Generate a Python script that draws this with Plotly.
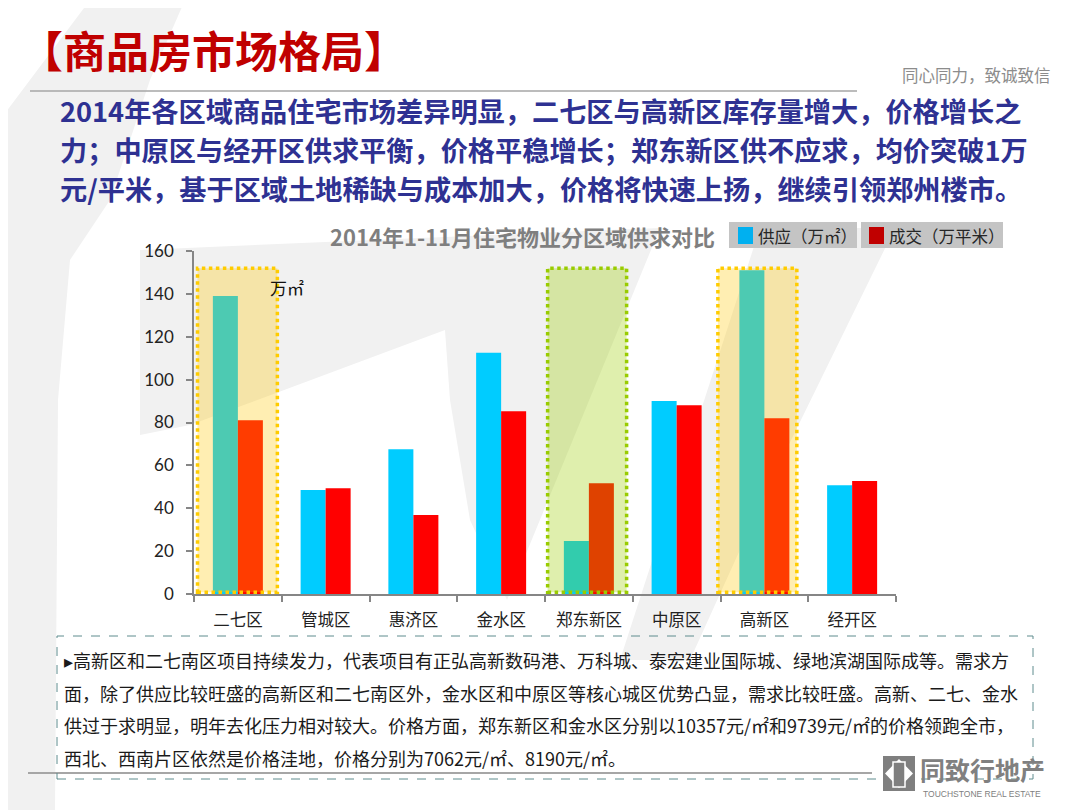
import plotly.graph_objects as go

# ---------------- data ----------------
districts = ["二七区", "管城区", "惠济区", "金水区", "郑东新区", "中原区", "高新区", "经开区"]
supply = [139, 48.5, 67.5, 112.5, 24.7, 90, 151, 50.7]      # 供应（万㎡）
deal = [81, 49.3, 36.8, 85.2, 51.7, 88, 82, 52.7]           # 成交（万平米）
y_ticks = [0, 20, 40, 60, 80, 100, 120, 140, 160]

page_title = "【商品房市场格局】"
summary_lines = [
    "2014年各区域商品住宅市场差异明显，二七区与高新区库存量增大，价格增长之",
    "力；中原区与经开区供求平衡，价格平稳增长；郑东新区供不应求，均价突破1万",
    "元/平米，基于区域土地稀缺与成本加大，价格将快速上扬，继续引领郑州楼市。",
]
chart_title = "2014年1-11月住宅物业分区域供求对比"
legend_names = ["供应（万㎡）", "成交（万平米）"]
unit_label = "万㎡"
note_lines = [
    "▸高新区和二七南区项目持续发力，代表项目有正弘高新数码港、万科城、泰宏建业国际城、绿地滨湖国际成等。需求方",
    "面，除了供应比较旺盛的高新区和二七南区外，金水区和中原区等核心城区优势凸显，需求比较旺盛。高新、二七、金水",
    "供过于求明显，明年去化压力相对较大。价格方面，郑东新区和金水区分别以10357元/㎡和9739元/㎡的价格领跑全市，",
    "西北、西南片区依然是价格洼地，价格分别为7062元/㎡、8190元/㎡。",
]
tagline = "同心同力，致诚致信"
brand_cn = "同致行地产"
brand_en = "TOUCHSTONE REAL ESTATE"

# ---------------- geometry helpers ----------------
OFF = 8                      # page body margin of the browser
W, H = 1080 - OFF, 810 - OFF
PL, PR, PT, PB = 194, 896, 251, 594  # plot area in screenshot pixels


def px(x):
    return (x - PL) / (PR - PL)


def py(y):
    return (PB - y) / (PB - PT)


CJK = "Noto Sans CJK SC"

fig = go.Figure()
fig.add_trace(go.Bar(x=districts, y=supply, name=legend_names[0],
                     marker=dict(color="#00CCFF", line=dict(width=0)), showlegend=False))
fig.add_trace(go.Bar(x=districts, y=deal, name=legend_names[1],
                     marker=dict(color="#FF0000", line=dict(width=0)), showlegend=False))

shapes = []
annotations = []


def poly(points, color, layer="below"):
    path = "M " + " L ".join(f"{px(a):.5f},{py(b):.5f}" for a, b in points) + " Z"
    return dict(type="path", xref="paper", yref="paper", path=path,
                fillcolor=color, line=dict(width=0), layer=layer)


# faint watermark in the background
WM = "#F1F1F1"
shapes.append(poly([(90, 0), (185, 0), (150, 80), (110, 200), (70, 260), (58, 400), (55, 810), (0, 810), (0, 120)], WM))
shapes.append(poly([(140, 250), (560, 232), (660, 228), (507, 600), (470, 520), (450, 400), (445, 330),
                    (190, 425), (140, 435)], WM))
shapes.append(poly([(760, 228), (895, 228), (773, 477), (690, 660), (620, 660)], WM))

# highlight boxes (over bars, translucent)
highlights = [
    (0, -0.46, 0.45, "rgba(255,200,0,0.30)", "#FFCC00"),
    (4, -0.47, 0.43, "rgba(155,206,0,0.32)", "#99CC00"),
    (6, -0.53, 0.37, "rgba(255,200,0,0.30)", "#FFCC00"),
]
for idx, a, b, fill, edge in highlights:
    shapes.append(dict(type="rect", xref="x", yref="y", x0=idx + a, x1=idx + b, y0=0.8, y1=152,
                       fillcolor=fill, line=dict(color=edge, width=3.5, dash="dot"), layer="above"))

# top separator line
shapes.append(dict(type="line", xref="paper", yref="paper", x0=px(30), x1=px(857), y0=py(91), y1=py(91),
                   line=dict(color="#A6A6A6", width=1.5)))
# bottom separator line
shapes.append(dict(type="line", xref="paper", yref="paper", x0=px(28), x1=px(872), y0=py(773), y1=py(773),
                   line=dict(color="#A6A6A6", width=2)))
# note dashed box
shapes.append(dict(type="rect", xref="paper", yref="paper", x0=px(57), x1=px(1033), y0=py(779), y1=py(636),
                   line=dict(color="#5F8C8E", width=1, dash="dash"), fillcolor="rgba(0,0,0,0)"))

# legend boxes
legend_boxes = [(729, 857, "#00B0F0", 738), (861, 1003, "#C00000", 869)]
for (x0, x1, col, mx), name in zip(legend_boxes, legend_names):
    shapes.append(dict(type="rect", xref="paper", yref="paper", x0=px(x0), x1=px(x1), y0=py(248), y1=py(222),
                       fillcolor="#C4C4C4", line=dict(width=0)))
    shapes.append(dict(type="rect", xref="paper", yref="paper", x0=px(mx), x1=px(mx + 15), y0=py(244), y1=py(227),
                       fillcolor=col, line=dict(width=0)))
    annotations.append(dict(text=name, xref="paper", yref="paper", x=px(mx + 18), y=py(236),
                            xanchor="left", yanchor="middle", showarrow=False,
                            font=dict(family=CJK, size=16.5, color="#262626")))

# logo icon
shapes.append(dict(type="rect", xref="paper", yref="paper", x0=px(883), x1=px(915), y0=py(791), y1=py(756),
                   fillcolor="#7F7F7F", line=dict(width=0)))
shapes.append(poly([(899, 759), (913, 773.5), (899, 788), (885, 773.5)], "#FFFFFF", layer="above"))
shapes.append(dict(type="rect", xref="paper", yref="paper", x0=px(893), x1=px(905), y0=py(787), y1=py(762),
                   fillcolor="#7F7F7F", line=dict(color="#FFFFFF", width=1.5), layer="above"))

# texts
annotations.append(dict(text=f"<b>{page_title}</b>", xref="paper", yref="paper", x=px(18), y=py(49),
                        xanchor="left", yanchor="middle", showarrow=False,
                        font=dict(family=CJK, size=43, color="#C00000")))
for i, line in enumerate(summary_lines):
    annotations.append(dict(text=f"<b>{line}</b>", xref="paper", yref="paper", x=px(58), y=py(110 + 39 * i),
                            xanchor="left", yanchor="middle", showarrow=False,
                            font=dict(family=CJK, size=27.2, color="#2E3192")))
annotations.append(dict(text=tagline, xref="paper", yref="paper", x=px(1053), y=py(75),
                        xanchor="right", yanchor="middle", showarrow=False,
                        font=dict(family=CJK, size=16.5, color="#8C8C8C")))
annotations.append(dict(text=f"<b>{chart_title}</b>", xref="paper", yref="paper", x=px(522), y=py(236),
                        xanchor="center", yanchor="middle", showarrow=False,
                        font=dict(family=CJK, size=22, color="#7F7F7F")))
annotations.append(dict(text=unit_label, xref="paper", yref="paper", x=px(268), y=py(287),
                        xanchor="left", yanchor="middle", showarrow=False,
                        font=dict(family=CJK, size=17, color="#111111")))
for i, line in enumerate(note_lines):
    annotations.append(dict(text=line, xref="paper", yref="paper", x=px(62), y=py(660 + 32.5 * i),
                            xanchor="left", yanchor="middle", showarrow=False,
                            font=dict(family=CJK, size=18.0, color="#1A1A1A")))
annotations.append(dict(text=f"<b>{brand_cn}</b>", xref="paper", yref="paper", x=px(918), y=py(769),
                        xanchor="left", yanchor="middle", showarrow=False,
                        font=dict(family=CJK, size=25, color="#808080")))
annotations.append(dict(text=brand_en, xref="paper", yref="paper", x=px(921), y=py(794),
                        xanchor="left", yanchor="middle", showarrow=False,
                        font=dict(family="Liberation Sans", size=8.5, color="#808080")))

fig.update_layout(
    width=W, height=H,
    margin=dict(l=PL - OFF, r=W - (PR - OFF), t=PT - OFF, b=H - (PB - OFF), pad=0),
    paper_bgcolor="#FFFFFF", plot_bgcolor="rgba(0,0,0,0)",
    barmode="group", bargap=0.43, bargroupgap=0,
    shapes=shapes, annotations=annotations, showlegend=False,
    xaxis=dict(type="category", showgrid=False, zeroline=False,
               showline=True, linecolor="#868686", linewidth=1.5,
               ticks="outside", tickson="boundaries", ticklen=6, tickcolor="#868686", tickwidth=1.5,
               tickfont=dict(family=CJK, size=16.5, color="#222222"), ticklabelstandoff=10),
    yaxis=dict(range=[0, 160], tickvals=y_ticks, showgrid=False, zeroline=False,
               showline=True, linecolor="#868686", linewidth=1.5,
               ticks="outside", ticklen=6, tickcolor="#868686", tickwidth=1.5,
               tickfont=dict(family="Lato", size=17, color="#222222"), ticklabelstandoff=9),
)

fig.write_html("out.html")
